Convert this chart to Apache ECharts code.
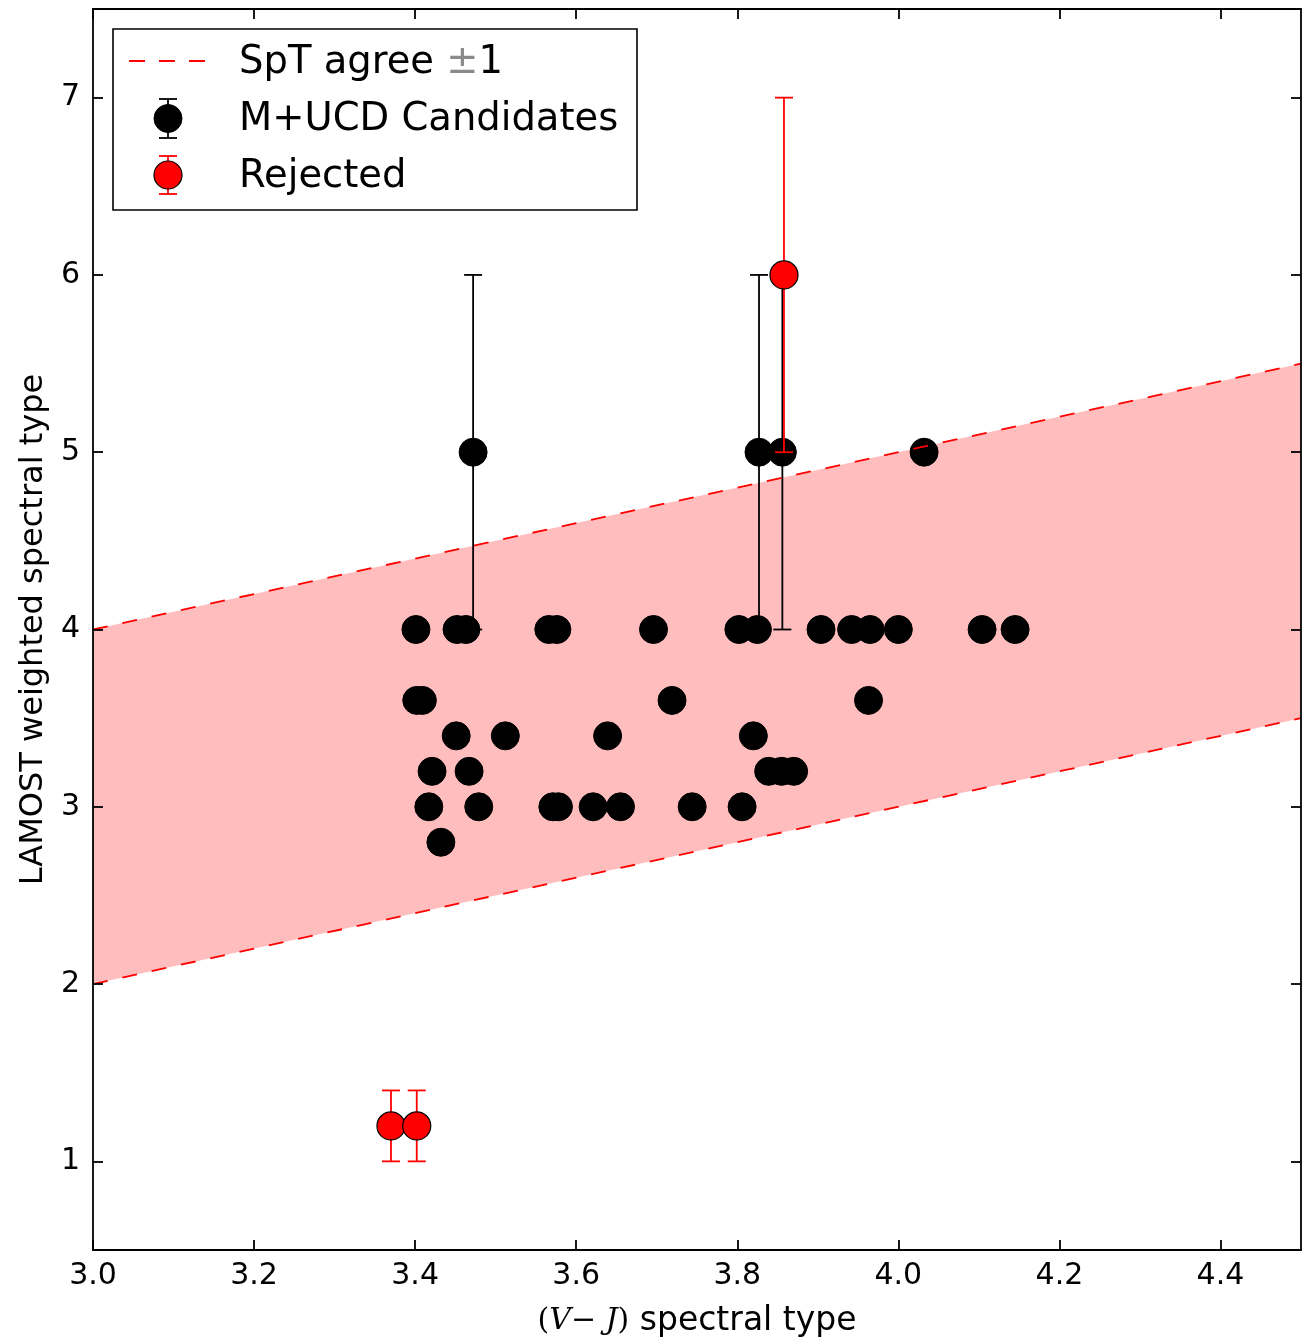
<!DOCTYPE html>
<html>
<head>
<meta charset="utf-8">
<script src="https://cdn.jsdelivr.net/npm/echarts@6/dist/echarts.min.js"></script>
<style>
  html, body { margin: 0; padding: 0; background: #ffffff; }
  #chart { width: 1315px; height: 1343px; }
</style>
</head>
<body>
<div id="chart"></div>
<script>
// Tick positions on both axes
const xTicks = [3.0, 3.2, 3.4, 3.6, 3.8, 4.0, 4.2, 4.4];
const yTicks = [1, 2, 3, 4, 5, 6, 7];

// Agreement band: LAMOST type within ±1 of the (V-J) type
const agreeX = [3.0, 4.5];
const agreeUpper = [4.0, 5.5];
const agreeLower = [2.0, 3.5];

// M+UCD candidates: (V-J) type, LAMOST weighted type, error (0 = none drawn)
const candX = [
  3.401, 3.452, 3.463, 3.566, 3.576, 3.696, 3.802, 3.825, 3.904, 3.942, 3.965, 4.000, 4.104, 4.145,
  3.402, 3.409, 3.719, 3.963,
  3.451, 3.512, 3.639, 3.820,
  3.421, 3.467, 3.839, 3.855, 3.870,
  3.417, 3.479, 3.571, 3.578, 3.621, 3.655, 3.744, 3.806,
  3.432,
  3.472, 3.827, 3.856, 4.032
];
const candY = [
  4.0, 4.0, 4.0, 4.0, 4.0, 4.0, 4.0, 4.0, 4.0, 4.0, 4.0, 4.0, 4.0, 4.0,
  3.6, 3.6, 3.6, 3.6,
  3.4, 3.4, 3.4, 3.4,
  3.2, 3.2, 3.2, 3.2, 3.2,
  3.0, 3.0, 3.0, 3.0, 3.0, 3.0, 3.0, 3.0,
  2.8,
  5.0, 5.0, 5.0, 5.0
];
const candErr = [
  0, 0, 0, 0, 0, 0, 0, 0, 0, 0, 0, 0, 0, 0,
  0, 0, 0, 0,
  0, 0, 0, 0,
  0, 0, 0, 0, 0,
  0, 0, 0, 0, 0, 0, 0, 0,
  0,
  1.0, 1.0, 1.0, 0
];

// Rejected objects
const rejX = [3.370, 3.402, 3.858];
const rejY = [1.2, 1.2, 6.0];
const rejErr = [0.2, 0.2, 1.0];

const FONT = 'DejaVu Sans';

const candPoints = candX.map((x, i) => [x, candY[i]]);
const candBars = candX.map((x, i) => [x, candY[i], candErr[i]]).filter(d => d[2] > 0);
const rejPoints = rejX.map((x, i) => [x, rejY[i]]);
const rejBars = rejX.map((x, i) => [x, rejY[i], rejErr[i]]);

function errorBar(color) {
  return function (params, api) {
    const x = api.value(0), y = api.value(1), e = api.value(2);
    const top = api.coord([x, y + e]);
    const bot = api.coord([x, y - e]);
    const hw = 9;
    const st = () => ({ stroke: color, lineWidth: 1.8 });
    return {
      type: 'group',
      children: [
        { type: 'line', shape: { x1: top[0], y1: top[1], x2: bot[0], y2: bot[1] }, style: st() },
        { type: 'line', shape: { x1: top[0] - hw, y1: top[1], x2: top[0] + hw, y2: top[1] }, style: st() },
        { type: 'line', shape: { x1: bot[0] - hw, y1: bot[1], x2: bot[0] + hw, y2: bot[1] }, style: st() }
      ]
    };
  };
}

function bandPolygon(params, api) {
  const pts = [
    api.coord([agreeX[0], agreeLower[0]]),
    api.coord([agreeX[1], agreeLower[1]]),
    api.coord([agreeX[1], agreeUpper[1]]),
    api.coord([agreeX[0], agreeUpper[0]])
  ];
  return { type: 'polygon', shape: { points: pts }, style: { fill: '#ffbdbd' } };
}

const axisLineStyle = { color: '#000', width: 1.8 };

function xAxisDef(pos, showLabels) {
  return {
    type: 'value', position: pos, min: 3.0, max: 4.5, z: 20,
    axisLine: { show: true, onZero: false, lineStyle: axisLineStyle },
    axisTick: { show: true, inside: true, length: 10, customValues: xTicks, lineStyle: { color: '#000', width: 1.8 } },
    axisLabel: {
      show: showLabels, customValues: xTicks, margin: 11,
      formatter: v => v.toFixed(1), color: '#000', fontSize: 30, fontFamily: FONT
    },
    splitLine: { show: false }
  };
}
function yAxisDef(pos, showLabels) {
  return {
    type: 'value', position: pos, min: 0.5, max: 7.5, z: 20,
    axisLine: { show: true, onZero: false, lineStyle: axisLineStyle },
    axisTick: { show: true, inside: true, length: 10, customValues: yTicks, lineStyle: { color: '#000', width: 1.8 } },
    axisLabel: {
      show: showLabels, customValues: yTicks, margin: 13,
      formatter: v => String(v), color: '#000', fontSize: 30, fontFamily: FONT
    },
    splitLine: { show: false }
  };
}

const xMain = xAxisDef('bottom', true);
xMain.name = '{p|(}{m|V}{p|−}{m| J}{p|)}{s| spectral type}';
xMain.nameLocation = 'middle';
xMain.nameGap = 55;
xMain.nameTextStyle = {
  color: '#000', fontSize: 33, fontFamily: FONT,
  rich: {
    p: { fontFamily: 'DejaVu Serif', fontSize: 30, color: '#000' },
    m: { fontFamily: 'DejaVu Serif', fontStyle: 'italic', fontSize: 30, color: '#000' },
    s: { fontFamily: FONT, fontSize: 33, color: '#000' }
  }
};
const yMain = yAxisDef('left', true);
yMain.name = 'LAMOST weighted spectral type';
yMain.nameLocation = 'middle';
yMain.nameGap = 40;
yMain.nameTextStyle = { color: '#000', fontSize: 32, fontFamily: FONT };

// Legend drawn as a framed box in the upper-left corner of the plot
const LX = 168, LT = 239;
const legend = [
  { type: 'rect', shape: { x: 113, y: 29, width: 524, height: 181 }, style: { fill: '#fff', stroke: '#000', lineWidth: 1.6 }, z: 100 },
  { type: 'line', shape: { x1: 129, y1: 61, x2: 207, y2: 61 }, style: { stroke: '#ff0000', lineWidth: 1.8, lineDash: [16, 14] }, z: 101 },
  { type: 'text', x: LT, y: 63, style: {
      text: '{t|SpT agree }{g|±}{t|1}', verticalAlign: 'middle',
      rich: { t: { fontSize: 38.5, fontFamily: FONT, fill: '#000' }, g: { fontSize: 38.5, fontFamily: FONT, fill: '#8a8a8a' } }
    }, z: 101 },
  { type: 'line', shape: { x1: LX, y1: 99, x2: LX, y2: 138 }, style: { stroke: '#000', lineWidth: 1.8 }, z: 101 },
  { type: 'line', shape: { x1: LX - 9, y1: 99, x2: LX + 9, y2: 99 }, style: { stroke: '#000', lineWidth: 1.8 }, z: 101 },
  { type: 'line', shape: { x1: LX - 9, y1: 138, x2: LX + 9, y2: 138 }, style: { stroke: '#000', lineWidth: 1.8 }, z: 101 },
  { type: 'circle', shape: { cx: LX, cy: 118.5, r: 14 }, style: { fill: '#000', stroke: '#000', lineWidth: 1 }, z: 102 },
  { type: 'text', x: LT, y: 120, style: { text: 'M+UCD Candidates', verticalAlign: 'middle', fontSize: 38.5, fontFamily: FONT, fill: '#000' }, z: 101 },
  { type: 'line', shape: { x1: LX, y1: 156, x2: LX, y2: 194 }, style: { stroke: '#ff0000', lineWidth: 1.8 }, z: 101 },
  { type: 'line', shape: { x1: LX - 9, y1: 156, x2: LX + 9, y2: 156 }, style: { stroke: '#ff0000', lineWidth: 1.8 }, z: 101 },
  { type: 'line', shape: { x1: LX - 9, y1: 194, x2: LX + 9, y2: 194 }, style: { stroke: '#ff0000', lineWidth: 1.8 }, z: 101 },
  { type: 'circle', shape: { cx: LX, cy: 175, r: 14 }, style: { fill: '#ff0000', stroke: '#000', lineWidth: 1.2 }, z: 102 },
  { type: 'text', x: LT, y: 176.5, style: { text: 'Rejected', verticalAlign: 'middle', fontSize: 38.5, fontFamily: FONT, fill: '#000' }, z: 101 }
];

const chart = echarts.init(document.getElementById('chart'), null, { renderer: 'canvas' });
chart.setOption({
  animation: false,
  backgroundColor: '#ffffff',
  grid: { left: 93, top: 9, width: 1208, height: 1247, containLabel: false },
  xAxis: [xMain, xAxisDef('top', false)],
  yAxis: [yMain, yAxisDef('right', false)],
  graphic: legend,
  series: [
    {
      name: 'band', type: 'custom', renderItem: bandPolygon, z: 1, silent: true,
      encode: { x: 0, y: 1 }, data: [[agreeX[0], agreeLower[0]]]
    },
    {
      name: 'candErr', type: 'custom', renderItem: errorBar('#000'), z: 2, silent: true,
      encode: { x: 0, y: 1 }, data: candBars
    },
    {
      name: 'M+UCD Candidates', type: 'scatter', z: 3, symbol: 'circle', symbolSize: 28,
      itemStyle: { color: '#000', borderColor: '#000', borderWidth: 1, opacity: 1 },
      data: candPoints
    },
    {
      name: 'rejErr', type: 'custom', renderItem: errorBar('#ff0000'), z: 4, silent: true,
      encode: { x: 0, y: 1 }, data: rejBars
    },
    {
      name: 'Rejected', type: 'scatter', z: 5, symbol: 'circle', symbolSize: 28,
      itemStyle: { color: '#ff0000', borderColor: '#000', borderWidth: 1.2, opacity: 1 },
      data: rejPoints
    },
    {
      name: 'upper', type: 'line', z: 6, showSymbol: false, symbol: 'none', silent: true,
      lineStyle: { color: '#ff0000', width: 1.8, type: [15, 15] },
      data: agreeX.map((x, i) => [x, agreeUpper[i]])
    },
    {
      name: 'lower', type: 'line', z: 6, showSymbol: false, symbol: 'none', silent: true,
      lineStyle: { color: '#ff0000', width: 1.8, type: [15, 15] },
      data: agreeX.map((x, i) => [x, agreeLower[i]])
    }
  ]
});
</script>
</body>
</html>
